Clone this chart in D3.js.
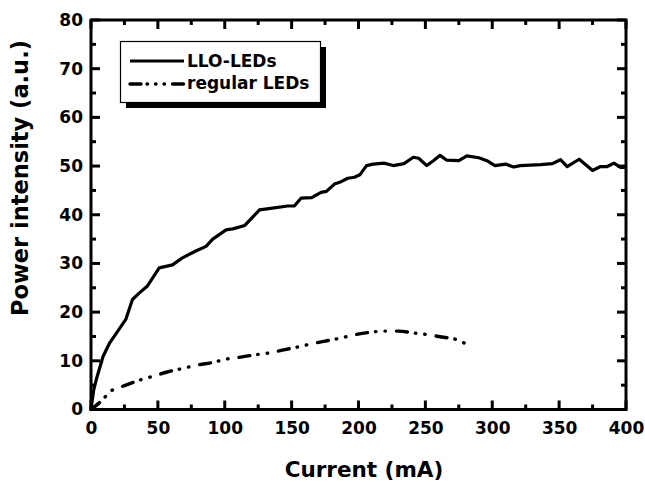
<!DOCTYPE html>
<html>
<head>
<meta charset="utf-8">
<script src="https://cdn.jsdelivr.net/npm/d3@7"></script>
<style>
  html, body { margin: 0; padding: 0; background: #fff; }
  svg { display: block; }
  text { font-family: "DejaVu Sans", sans-serif; font-weight: bold; fill: #000; }
</style>
</head>
<body>
<svg id="chart" width="645" height="483"></svg>
<script>
// ---- data ----
const lloCurrent = [0, 2, 4, 9, 14, 19, 26, 31, 36, 42, 51, 61, 68, 78, 86, 91, 101, 106, 115, 126,
  137, 147, 152, 157, 165, 172, 176, 182, 187, 192, 197, 201, 206, 211, 219, 226, 234, 241, 245, 251,
  256, 261, 266, 275, 281, 290, 296, 302, 310, 316, 321, 336, 345, 351, 356, 365, 375, 381, 386, 391,
  396, 400];
const lloPower = [0, 4, 6.2, 10.9, 13.7, 15.7, 18.5, 22.6, 23.9, 25.3, 29.1, 29.7, 31.1, 32.5, 33.5, 35, 36.9, 37.1, 37.8, 41,
  41.4, 41.8, 41.8, 43.4, 43.5, 44.6, 44.8, 46.3, 46.8, 47.5, 47.7, 48.2, 50.1, 50.4, 50.6, 50.1, 50.5, 51.8, 51.6, 50.1,
  51.1, 52.2, 51.2, 51.1, 52.1, 51.7, 51.1, 50.1, 50.4, 49.8, 50.1, 50.3, 50.5, 51.3, 49.9, 51.4, 49.1, 49.9, 49.9, 50.6,
  49.7, 49.7];
const regCurrent = [0, 7.5, 15, 25, 36, 48.5, 57, 68, 81, 90, 102, 113, 122, 133, 145, 154, 165, 178, 187, 198,
  210, 219, 230, 242, 251, 262, 275, 284];
const regPower = [0, 1.7, 3.8, 4.9, 6.0, 7.0, 7.7, 8.4, 9.2, 9.6, 10.4, 10.8, 11.2, 11.6, 12.3, 12.8, 13.5, 14.2, 14.7, 15.4,
  15.9, 16.1, 16.1, 15.7, 15.4, 14.9, 14.2, 12.8];
const seriesNames = ["LLO-LEDs", "regular LEDs"];
const xMajorTicks = [0, 50, 100, 150, 200, 250, 300, 350, 400];
const xMinorTicks = [25, 75, 125, 175, 225, 275, 325, 375];
const yMajorTicks = [0, 10, 20, 30, 40, 50, 60, 70, 80];
const yMinorTicks = [5, 15, 25, 35, 45, 55, 65, 75];
const xTitle = "Current (mA)";
const yTitle = "Power intensity (a.u.)";

// ---- layout ----
const L = 91, R = 626, T = 20, B = 409.5;
const MAJ = 9, MIN = 5;
const svg = d3.select("#chart");
const x = d3.scaleLinear().domain([0, 400]).range([L, R]);
const y = d3.scaleLinear().domain([0, 80]).range([B, T]);

// tick labels via d3 axes
const xa = svg.append("g").attr("transform", `translate(0,${B})`)
  .call(d3.axisBottom(x).tickValues(xMajorTicks).tickSize(0).tickPadding(12).tickFormat(d3.format("d")));
const ya = svg.append("g").attr("transform", `translate(${L},0)`)
  .call(d3.axisLeft(y).tickValues(yMajorTicks).tickSize(0).tickPadding(8).tickFormat(d3.format("d")));
[xa, ya].forEach(g => {
  g.select(".domain").remove();
  g.selectAll(".tick line").remove();
  g.selectAll(".tick text").attr("fill", "#000")
    .style("font-size", "17px").style("font-family", "DejaVu Sans").style("font-weight", "bold");
});

// inward tick marks on all four sides
const tk = svg.append("g").attr("stroke", "#000").attr("stroke-width", 3);
function xTicks(vals, len) {
  tk.selectAll(null).data(vals).enter().append("line")
    .attr("x1", d => x(d)).attr("x2", d => x(d)).attr("y1", B).attr("y2", B - len);
  tk.selectAll(null).data(vals).enter().append("line")
    .attr("x1", d => x(d)).attr("x2", d => x(d)).attr("y1", T).attr("y2", T + len);
}
function yTicks(vals, len) {
  tk.selectAll(null).data(vals).enter().append("line")
    .attr("y1", d => y(d)).attr("y2", d => y(d)).attr("x1", L).attr("x2", L + len);
  tk.selectAll(null).data(vals).enter().append("line")
    .attr("y1", d => y(d)).attr("y2", d => y(d)).attr("x1", R).attr("x2", R - len);
}
xTicks(xMajorTicks, MAJ); xTicks(xMinorTicks, MIN);
yTicks(yMajorTicks, MAJ); yTicks(yMinorTicks, MIN);

// frame
svg.append("rect").attr("x", L).attr("y", T).attr("width", R - L).attr("height", B - T)
  .attr("fill", "none").attr("stroke", "#000").attr("stroke-width", 3);

// lines
const lloData = lloCurrent.map((c, i) => [c, lloPower[i]]);
const regData = regCurrent.map((c, i) => [c, regPower[i]]);
const lineLin = d3.line().x(d => x(d[0])).y(d => y(d[1]));
const lineSmooth = d3.line().x(d => x(d[0])).y(d => y(d[1])).curve(d3.curveMonotoneX);
const dashRegular = "11,8,0.5,9,0.5,11";

svg.append("path").datum(lloData).attr("d", lineLin)
  .attr("fill", "none").attr("stroke", "#000").attr("stroke-width", 3.2).attr("stroke-linejoin", "round");
svg.append("path").datum(regData).attr("d", lineSmooth)
  .attr("fill", "none").attr("stroke", "#000").attr("stroke-width", 3.4)
  .attr("stroke-linecap", "round").attr("stroke-dasharray", dashRegular);

// legend
const lg = svg.append("g");
lg.append("rect").attr("x", 126).attr("y", 47).attr("width", 200).attr("height", 61).attr("fill", "#000");
lg.append("rect").attr("x", 120.5).attr("y", 41.5).attr("width", 200).attr("height", 61)
  .attr("fill", "#fff").attr("stroke", "#000").attr("stroke-width", 1.2);
lg.append("line").attr("x1", 130).attr("x2", 184).attr("y1", 61).attr("y2", 61)
  .attr("stroke", "#000").attr("stroke-width", 3.2);
lg.append("line").attr("x1", 130).attr("x2", 184).attr("y1", 84).attr("y2", 84)
  .attr("stroke", "#000").attr("stroke-width", 3.4).attr("stroke-linecap", "round")
  .attr("stroke-dasharray", "11,6,0.5,8,0.5,8,0.5,8");
lg.append("text").attr("x", 187).attr("y", 67).style("font-size", "17px").text(seriesNames[0]);
lg.append("text").attr("x", 187).attr("y", 89).style("font-size", "17px").text(seriesNames[1]);

// titles
svg.append("text").attr("x", 364).attr("y", 477).attr("text-anchor", "middle")
  .style("font-size", "21.5px").text(xTitle);
svg.append("text").attr("transform", `translate(28,178) rotate(-90)`).attr("text-anchor", "middle")
  .style("font-size", "22.5px").text(yTitle);
</script>
</body>
</html>
